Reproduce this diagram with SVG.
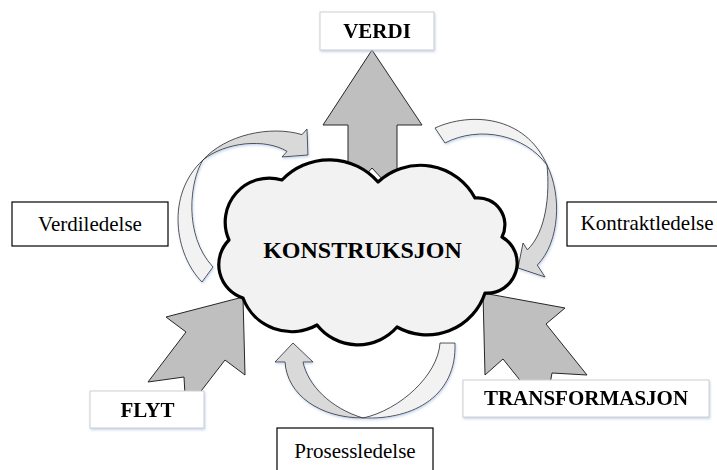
<svg xmlns="http://www.w3.org/2000/svg" width="717" height="470" viewBox="0 0 717 470">
  <style>
    .lbl { font-family: "Liberation Serif", "Times New Roman", serif; font-size: 21px; fill: #000; text-anchor: middle; }
    .bold { font-weight: bold; }
    .box-dark { fill: #fff; stroke: #000; stroke-width: 1.2; }
    .box-soft { fill: #fff; stroke: #cfcfcf; stroke-width: 1; }
    .block { fill: #bfbfbf; stroke: #262626; stroke-width: 1; stroke-linejoin: miter; }
    .front { fill: #d9d9d9; stroke: #262626; stroke-width: 0.8; stroke-linejoin: miter; }
    .back { fill: #f2f2f2; stroke: #262626; stroke-width: 0.8; stroke-linejoin: miter; }
    .cloud { fill: #f2f2f2; stroke: #000; stroke-width: 3.2; stroke-linejoin: round; }
  </style>
  <defs>
    <filter id="halo" x="-20%" y="-20%" width="140%" height="140%">
      <feDropShadow dx="0.8" dy="1.5" stdDeviation="1.2" flood-color="#9db7e0" flood-opacity="0.6"/>
    </filter>
  </defs>

  <!-- arrows: block arrows toward/from the cloud and the curved management loops -->
  <g id="connectors">
    <!-- up arrow to VERDI (notched tail hidden behind the cloud) -->
    <polygon class="block" points="372,50 422,125 397,125 397,195 372,168 348,195 348,125 323,125"/>
    <!-- FLYT arrow into the cloud -->
    <polygon class="block" points="243,297 245,375 225,360 198,395 185,395 184,377 148,382 186,332 166,317"/>
    <!-- TRANSFORMASJON arrow into the cloud -->
    <polygon class="block" points="483,293 565,308 546,324 587,375 552,373 550,384 523,384 503,359 485,375"/>

    <!-- Verdiledelse loop (left, pointing over the top) -->
    <g filter="url(#halo)">
      <path class="back" d="M202,282 C175,255 165,195 203,160 C190,180 183,235 213,267 Z"/>
      <path class="front" d="M203,160 C225,135 270,125 302,134.6 L307,129 L308,155 L282,157 L287,151.4 C265,138 225,142 203,160 Z"/>
    </g>
    <!-- Kontraktledelse loop (right, pointing down into the cloud) -->
    <g filter="url(#halo)">
      <path class="back" d="M435,128 C470,112 525,115 547,165 C525,135 480,125 445,143 Z"/>
      <path class="front" d="M547,165 C562,195 560,242 537.3,265.1 L545,277 L518,268 L523,243 L527.4,249.8 C546,232 550,195 547,165 Z"/>
    </g>
    <!-- Prosessledelse loop (bottom, pointing up into the cloud) -->
    <g filter="url(#halo)">
      <path class="back" d="M363,418 C415,420 457,395 455,343 L440,343 C438,375 400,410 363,418 Z"/>
      <path class="front" d="M363,418 C320,418 287,395 285,362 L275,362 L293,343 L313,362 L303,362 C308,385 330,408 363,418 Z"/>
    </g>
  </g>

  <g id="konstruksjon">
    <path class="cloud" d="M282,180 A65,65 0 0 1 378,182 A62,62 0 0 1 475,198 A27,27 0 0 1 502,237 A30,30 0 0 1 485,293 A61,61 0 0 1 397,327 A52,52 0 0 1 317,325 A52,52 0 0 1 243,298 A35,35 0 0 1 229,240 A44,44 0 0 1 282,180 Z"/>
    <text class="lbl bold" x="362.5" y="258" font-size="24" style="font-size:24px">KONSTRUKSJON</text>
  </g>

  <g id="verdi" filter="url(#halo)">
    <rect class="box-soft" x="320" y="12" width="114" height="38"/>
    <text class="lbl bold" x="377" y="37.5">VERDI</text>
  </g>

  <g id="verdiledelse">
    <rect class="box-dark" x="12" y="202" width="156" height="44"/>
    <text class="lbl" x="90" y="231">Verdiledelse</text>
  </g>

  <g id="kontraktledelse">
    <rect class="box-dark" x="567" y="202" width="160" height="44"/>
    <text class="lbl" x="647" y="229.5">Kontraktledelse</text>
  </g>

  <g id="prosessledelse">
    <rect class="box-dark" x="277" y="428" width="156" height="50"/>
    <text class="lbl" x="355" y="458">Prosessledelse</text>
  </g>

  <g id="flyt" filter="url(#halo)">
    <rect class="box-soft" x="90" y="391" width="114" height="37"/>
    <text class="lbl bold" x="147.5" y="416.5">FLYT</text>
  </g>

  <g id="transformasjon" filter="url(#halo)">
    <rect class="box-soft" x="463" y="380" width="246" height="37"/>
    <text class="lbl bold" x="586" y="405">TRANSFORMASJON</text>
  </g>
</svg>
